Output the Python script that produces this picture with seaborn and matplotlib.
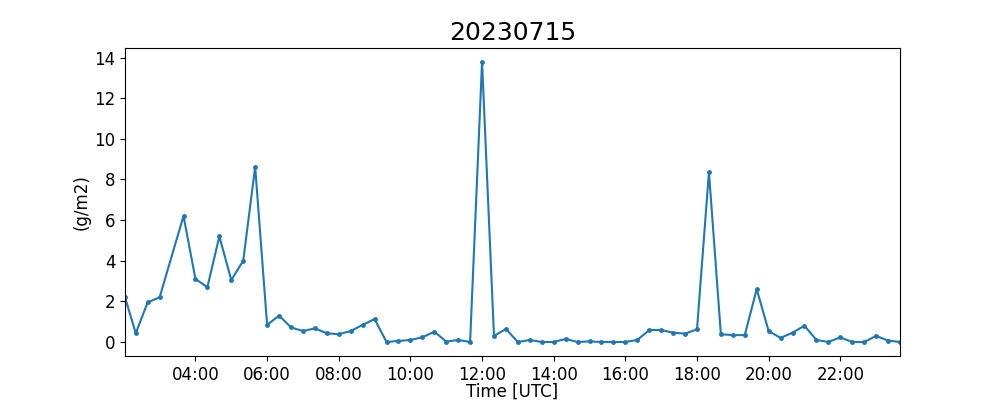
import pandas as pd
import seaborn as sns
import matplotlib
matplotlib.use("Agg")
import matplotlib.pyplot as plt
import matplotlib.dates as mdates

# data (20-minute steps, 03:20 missing)
day = "2023-07-15"
times = ["02:02", "02:20", "02:40", "03:00", "03:40", "04:00", "04:20", "04:40",
         "05:00", "05:20", "05:40", "06:00", "06:20", "06:40", "07:00", "07:20",
         "07:40", "08:00", "08:20", "08:40", "09:00", "09:20", "09:40", "10:00",
         "10:20", "10:40", "11:00", "11:20", "11:40", "12:00", "12:20", "12:40",
         "13:00", "13:20", "13:40", "14:00", "14:20", "14:40", "15:00", "15:20",
         "15:40", "16:00", "16:20", "16:40", "17:00", "17:20", "17:40", "18:00",
         "18:20", "18:40", "19:00", "19:20", "19:40", "20:00", "20:20", "20:40",
         "21:00", "21:20", "21:40", "22:00", "22:20", "22:40", "23:00", "23:20",
         "23:40"]
values = [2.2, 0.43, 1.95, 2.2, 6.2, 3.1, 2.7, 5.2,
          3.05, 4.0, 8.62, 0.84, 1.3, 0.72, 0.54, 0.67,
          0.43, 0.38, 0.54, 0.84, 1.13, 0.0, 0.05, 0.1,
          0.23, 0.51, 0.02, 0.1, 0.0, 13.78, 0.3, 0.64,
          0.0, 0.1, 0.0, 0.0, 0.15, 0.0, 0.03, 0.0,
          0.0, 0.0, 0.1, 0.59, 0.59, 0.46, 0.41, 0.62,
          8.36, 0.38, 0.34, 0.34, 2.6, 0.54, 0.2, 0.46,
          0.8, 0.1, 0.0, 0.23, 0.0, 0.0, 0.3, 0.07,
          0.0]

df = pd.DataFrame({"time": pd.to_datetime([day + " " + t for t in times]),
                   "value": values})

fig, ax = plt.subplots(figsize=(10, 4), dpi=100)
sns.lineplot(data=df, x="time", y="value", ax=ax, color="#1f77b4",
             marker="o", markersize=3.5, markeredgewidth=0, linewidth=1.5)

ax.set_xlim(df["time"].min(), df["time"].max())
ax.xaxis.set_major_locator(mdates.HourLocator(interval=2))
ax.xaxis.set_major_formatter(mdates.DateFormatter("%H:%M"))
ax.tick_params(labelsize=12)

ax.set_title("20230715", fontsize=18)
ax.set_xlabel("Time [UTC]", fontsize=12, labelpad=-1)
ax.set_ylabel("(g/m2)", fontsize=12, labelpad=2.5)

plt.savefig("out.png")
